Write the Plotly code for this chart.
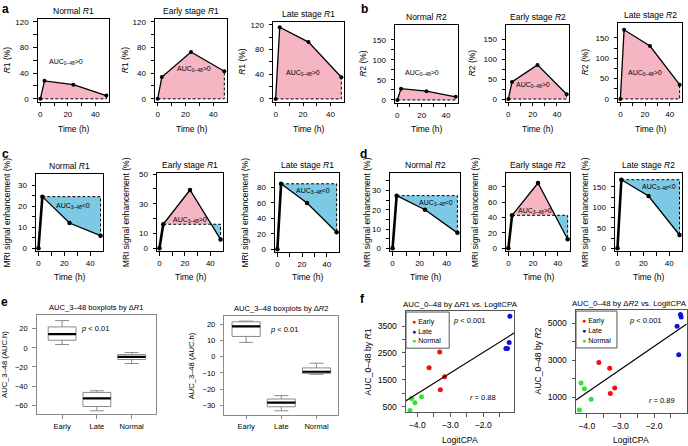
import numpy as np
import plotly.graph_objects as go

W, H = 688, 446
FONT = "Liberation Sans, Arial, Helvetica, sans-serif"

# ---------------- data ----------------
time_h = [0, 3, 24, 48]

# panel a: relaxation-rate change dR1 (%)
r1_normal = [0, 28, 22, 5]
r1_early = [0, 34, 73, 43]
r1_late = [0, 116, 92, 35]
# panel b: dR2 (%)
r2_normal = [0, 28, 22, 8]
r2_early = [0, 43, 86, 12]
r2_late = [0, 170, 130, 35]

# panel c / d: MRI signal enhancement (%)
mri_r1_normal = [0, 24.5, 12, 6]
mri_r1_early = [0, 16.2, 39.3, 6]
mri_r1_late = [0, 84.8, 60, 22]
mri_r2_normal = [0, 27.3, 20, 8]
mri_r2_early = [0, 43, 85, 11.7]
mri_r2_late = [0, 167.5, 127.6, 32.5]

# panel e: boxplot statistics of AUC_3-48
box_groups = ["Early", "Late", "Normal"]
e1_lower = [3.5, -66, -16.4]
e1_q1 = [8, -61.5, -12.2]
e1_median = [14.5, -53, -9.4]
e1_q3 = [22, -46.7, -7]
e1_upper = [28.6, -45, -4.9]
e2_lower = [8.9, -33.5, -10.9]
e2_q1 = [12.6, -31, -10.3]
e2_median = [18.9, -28.4, -9.3]
e2_q3 = [21.7, -26.2, -6.9]
e2_upper = [22.1, -24.1, -4]

# panel f: AUC_0-48 vs LogitCPA
logit_early = [-3.64, -3.32, -3.17, -3.30]
logit_late = [-1.316, -1.267, -1.216, -1.195]
logit_normal = [-4.22, -4.17, -4.07, -3.87]
auc_r1_early = [1953, 2537, 1610, 1133]
auc_r1_late = [2669, 2669, 2890, 3868]
auc_r1_normal = [357, 806, 650, 867]
auc_r2_early = [2875, 2571, 1500, 1196]
auc_r2_late = [4839, 3304, 5482, 5339]
auc_r2_normal = [304, 1768, 1464, 893]

# ---------------- styles ----------------
PINK = "#f6b5c2"
BLUE = "#7cc9e6"
BOX_W = 0.8

fig = go.Figure()
layout = {}
annotations = []
shapes = []


def sfx(i):
    return "" if i == 1 else str(i)


def xd(x0, x1):
    return [x0 / W, x1 / W]


def yd(y0, y1):
    return [1 - y1 / H, 1 - y0 / H]


def add_axes(i, box, xr, yr, xt, xtt, yt, ytt, frame="black", fs=8):
    s = sfx(i)
    common = dict(showline=True, mirror=True, linecolor=frame, linewidth=1,
                  ticks="outside", ticklen=3.5, tickwidth=1, tickcolor=frame,
                  showgrid=False, zeroline=False,
                  tickfont=dict(size=fs, family=FONT, color="black"))
    layout["xaxis" + s] = dict(domain=xd(box[0], box[1]), range=xr, anchor="y" + s,
                               tickmode="array", tickvals=xt, ticktext=xtt,
                               ticklabelstandoff=1, **common)
    layout["yaxis" + s] = dict(domain=yd(box[2], box[3]), range=yr, anchor="x" + s,
                               tickmode="array", tickvals=yt, ticktext=ytt,
                               ticklabelstandoff=3, **common)


def axref(i):
    s = sfx(i)
    return dict(xaxis="x" + s, yaxis="y" + s, showlegend=False, hoverinfo="skip")


def ann(**kw):
    kw.setdefault("xanchor", "center")
    kw.setdefault("yanchor", "middle")
    kw.setdefault("showarrow", False)
    annotations.append(kw)


def title(i, text, fs=8.5):
    s = sfx(i)
    ann(xref=f"x{s} domain", yref=f"y{s} domain", x=0.5, y=1, yanchor="bottom", yshift=1,
        text=text, font=dict(size=fs, family=FONT, color="black"))


def ylabel(i, xpx, text, fs=8.5):
    s = sfx(i)
    ann(xref="paper", yref=f"y{s} domain", x=xpx / W, y=0.5, textangle=-90,
        text=text, font=dict(size=fs, family=FONT, color="black"))


def xlabel(i, ypx, text, fs=8.5):
    s = sfx(i)
    ann(xref=f"x{s} domain", yref="paper", x=0.5, y=1 - ypx / H,
        text=text, font=dict(size=fs, family=FONT, color="black"))


def label_in(i, x, y, text, fs=7):
    s = sfx(i)
    ann(xref=f"x{s}", yref=f"y{s}", x=x, y=y, text=text,
        font=dict(size=fs, family=FONT, color="black"))


def regions(t, y, base):
    pts = [(t[0], y[0])]
    for k in range(len(t) - 1):
        d0, d1 = y[k] - base, y[k + 1] - base
        if d0 * d1 < 0:
            tc = t[k] + (t[k + 1] - t[k]) * d0 / (d0 - d1)
            pts.append((tc, base))
        pts.append((t[k + 1], y[k + 1]))
    runs, cur = [], [pts[0]]
    for p in pts[1:]:
        cur.append(p)
        if p[1] == base and len(cur) > 2:
            runs.append(cur)
            cur = [p]
    if len(cur) > 1:
        runs.append(cur)
    out = []
    for r in runs:
        xs = [p[0] for p in r]
        ys = [p[1] for p in r]
        if ys[-1] != base:
            xs.append(xs[-1]); ys.append(base)
        if ys[0] != base:
            xs.append(xs[0]); ys.append(base)
        dev = max(ys, key=lambda v: abs(v - base)) - base
        out.append((dev > 0, xs, ys))
    return out


def time_panel(i, y, mode):
    ax = axref(i)
    if mode == "auc0":
        t, yy, base = time_h, y, 0
        dash_x = [time_h[0], time_h[-1], time_h[-1]]
        dash_y = [0, 0, y[-1]]
    else:
        t, yy, base = time_h[1:], y[1:], y[1]
        dash_x = [time_h[1], time_h[-1], time_h[-1]]
        dash_y = [y[1], y[1], y[-1]]
    for pos, xs, ys in regions(t, yy, base):
        fig.add_trace(go.Scatter(x=xs, y=ys, mode="lines", fill="toself",
                                 fillcolor=PINK if pos else BLUE,
                                 line=dict(width=0), **ax))
    fig.add_trace(go.Scatter(x=dash_x, y=dash_y, mode="lines",
                             line=dict(color="black", width=1, dash="3px,2px"), **ax))
    if mode == "auc0":
        fig.add_trace(go.Scatter(x=time_h, y=y, mode="lines+markers",
                                 line=dict(color="black", width=1.3),
                                 marker=dict(size=4, color="black"), **ax))
    else:
        fig.add_trace(go.Scatter(x=time_h[:2], y=y[:2], mode="lines",
                                 line=dict(color="black", width=2.6), **ax))
        fig.add_trace(go.Scatter(x=time_h[1:], y=y[1:], mode="lines",
                                 line=dict(color="black", width=1.3), **ax))
        fig.add_trace(go.Scatter(x=time_h, y=y, mode="markers",
                                 marker=dict(size=4.5, color="black"), **ax))


XR = [-1.92, 49.92]
XT = [0, 10, 20, 30, 40]
XTT = ["0", "", "20", "", "40"]


def ticks(vals, labeled):
    return vals, [str(v) if v in labeled else "" for v in vals]


# ---------------- rows a / b ----------------
row1 = [
    (1, (37.7, 109, 16, 100), [-4.8, 124.8], ticks(list(range(0, 121, 20)), [0, 40, 80, 120]),
     r1_normal, "Normal <i>R</i>1", 7, "<i>R</i>1 (%)", (19, 57)),
    (2, (155, 227, 16, 100), [-4.8, 124.8], ticks(list(range(0, 121, 20)), [0, 40, 80, 120]),
     r1_early, "Early stage <i>R</i>1", 125, "<i>R</i>1 (%)", (26, 46)),
    (3, (273, 344, 19, 100), [-4.8, 124.8], ticks(list(range(0, 121, 20)), [0, 40, 80, 120]),
     r1_late, "Late stage <i>R</i>1", 242, "<i>R</i>1 (%)", (20, 42)),
    (4, (395, 458, 22, 101), [-7.2, 187.2], ticks(list(range(0, 151, 25)), [0, 50, 100, 150]),
     r2_normal, "Normal <i>R</i>2", 363, "<i>R</i>2 (%)", (20.5, 68)),
    (5, (506, 569, 22, 100), [-7.2, 187.2], ticks(list(range(0, 151, 25)), [0, 50, 100, 150]),
     r2_early, "Early stage <i>R</i>2", 472, "<i>R</i>2 (%)", (20, 35)),
    (6, (618, 682, 20, 100), [-7.2, 187.2], ticks(list(range(0, 151, 25)), [0, 50, 100, 150]),
     r2_late, "Late stage <i>R</i>2", 585, "<i>R</i>2 (%)", (20, 64)),
]
for i, box, yr, (yt, ytt), data, ttl, ylx, ylt, lab in row1:
    add_axes(i, box, XR, yr, XT, XTT, yt, ytt)
    time_panel(i, data, "auc0")
    title(i, ttl)
    ylabel(i, ylx, ylt)
    xlabel(i, 127, "Time (h)")
    label_in(i, lab[0], lab[1], "AUC<sub>0–48</sub>&gt;0")

# ---------------- rows c / d ----------------
row2 = [
    (7, (36, 103, 173, 251), [-1.35, 35.2], ticks(list(range(0, 31, 5)), [0, 10, 20, 30]),
     mri_r1_normal, "Normal <i>R</i>1", 7, (26.4, 20.3), "AUC<sub>3–48</sub>&lt;0"),
    (8, (157, 223, 172, 251), [-1.95, 50.7], ticks(list(range(0, 51, 10)), [0, 10, 30, 50]),
     mri_r1_early, "Early stage <i>R</i>1", 126, (24, 19.3), "AUC<sub>3–48</sub>&gt;0"),
    (9, (275, 339, 172, 252), [-3.8, 98.7], ticks(list(range(0, 81, 20)), [0, 20, 40, 60, 80]),
     mri_r1_late, "Late stage <i>R</i>1", 245, (28.8, 75), "AUC<sub>3–48</sub>&lt;0"),
    (10, (390, 460, 172, 251), [-1.5, 39], ticks(list(range(0, 36, 5)), [0, 10, 20, 30]),
     mri_r2_normal, "Normal <i>R</i>2", 367, (32, 23.7), "AUC<sub>3–48</sub>&lt;0"),
    (11, (506, 570, 172, 251), [-3.77, 98], ticks(list(range(0, 81, 20)), [0, 20, 40, 60, 80]),
     mri_r2_early, "Early stage <i>R</i>2", 475, (21.5, 49), "AUC<sub>3–48</sub>&gt;0"),
    (12, (615, 682, 172, 251), [-7.07, 183.7], ticks(list(range(0, 151, 25)), [0, 50, 100, 150]),
     mri_r2_late, "Late stage <i>R</i>2", 585, (32.4, 149), "AUC<sub>3–48</sub>&lt;0"),
]
for i, box, yr, (yt, ytt), data, ttl, ylx, lab, labt in row2:
    add_axes(i, box, XR, yr, XT, XTT, yt, ytt)
    time_panel(i, data, "auc3")
    title(i, ttl)
    ylabel(i, ylx, "MRI signal enhancement (%)")
    xlabel(i, 277, "Time (h)")
    label_in(i, lab[0], lab[1], labt)

# ---------------- row e : boxplots ----------------
GREY = "#8a8a8a"
epanels = [
    (13, (36.7, 156, 316, 416), [-0.73, 2.7], [-69.7, 34], list(range(-60, 21, 20)),
     (e1_lower, e1_q1, e1_median, e1_q3, e1_upper), "AUC_3–48 boxplots by Δ<i>R</i>1", 5,
     (0.95, 20)),
    (14, (224.3, 338.3, 317, 416.5), [-0.62, 2.62], [-36, 25], list(range(-30, 21, 10)),
     (e2_lower, e2_q1, e2_median, e2_q3, e2_upper), "AUC_3–48 boxplots by Δ<i>R</i>2", 191.7,
     (1.08, 16.8)),
]
for i, box, xr, yr, yt, (lo, q1, med, q3, up), ttl, ylx, ptxt in epanels:
    add_axes(i, box, xr, yr, [0, 1, 2], box_groups, yt,
             [str(v).replace("-", "−") for v in yt], frame=GREY, fs=7.5)
    fig.add_trace(go.Box(x=[0, 1, 2], q1=q1, median=med, q3=q3, lowerfence=lo,
                         upperfence=up, width=BOX_W, whiskerwidth=0.5, fillcolor="white",
                         line=dict(color=GREY, width=1), boxpoints=False, **axref(i)))
    mx, my = [], []
    for k, m in enumerate(med):
        mx += [k - BOX_W / 2, k + BOX_W / 2, None]
        my += [m, m, None]
    fig.add_trace(go.Scatter(x=mx, y=my, mode="lines", line=dict(color="black", width=2.2),
                             **axref(i)))
    title(i, ttl, fs=7.6)
    ylabel(i, ylx, "AUC_3–48 (AUC.h)", fs=7.6)
    label_in(i, ptxt[0], ptxt[1], "<i>p</i> &lt; 0.01", fs=7.5)

# ---------------- row f : scatter ----------------
groups = [("Early", "#ee1111", logit_early), ("Late", "#1111dd", logit_late),
          ("Normal", "#33e033", logit_normal)]
fpanels = [
    (15, (406, 514, 311, 414), [-4.34, -1.07], [290, 4077],
     ticks(list(range(500, 3501, 500)), [500, 1500, 2500, 3500]),
     [auc_r1_early, auc_r1_late, auc_r1_normal], "AUC_0–48 by Δ<i>R</i>1 vs. LogitCPA",
     368, "AUC_0–48 by <i>R</i>1", "0.88", (0.587, 0.904), (0.709, 0.15), 0.40, 0),
    (16, (576, 686.7, 310, 415), [-4.32, -1.03], [127, 5750],
     ticks(list(range(1000, 5001, 1000)), [1000, 3000, 5000]),
     [auc_r2_early, auc_r2_late, auc_r2_normal], "AUC_0–48 by Δ<i>R</i>2 vs. LogitCPA",
     538, "AUC_0–48 by <i>R</i>2", "0.89", (0.632, 0.898), (0.774, 0.127), 0.37, -2),
]
FX = [-4.0, -3.5, -3.0, -2.5, -2.0, -1.5]
FXT = ["−4.0", "", "−3.0", "", "−2.0", ""]
for i, box, xr, yr, (yt, ytt), ys, ttl, ylx, ylt, rr, ppos, rpos, legw, tshift in fpanels:
    s = sfx(i)
    add_axes(i, box, xr, yr, FX, FXT, yt, ytt, frame="#555555", fs=8.6)
    allx, ally = [], []
    for (name, col, gx), gy in zip(groups, ys):
        fig.add_trace(go.Scatter(x=gx, y=gy, mode="markers",
                                 marker=dict(size=5, color=col), **axref(i)))
        allx += gx
        ally += gy
    slope, icpt = np.polyfit(allx, ally, 1)
    fx = np.array(xr)
    fig.add_trace(go.Scatter(x=fx, y=slope * fx + icpt, mode="lines",
                             line=dict(color="black", width=1.2), **axref(i)))
    ann(xref=f"x{s} domain", yref=f"y{s} domain", x=0.5, y=1, yanchor="bottom", yshift=0,
        xshift=tshift, text=ttl, font=dict(size=7.9, family=FONT, color="black"))
    ylabel(i, ylx, ylt, fs=8.6)
    xlabel(i, 441.5, "LogitCPA", fs=8.6)
    ann(xref=f"x{s} domain", yref=f"y{s} domain", x=ppos[0], y=ppos[1],
        text="<i>p</i> &lt; 0.001", font=dict(size=7.5, family=FONT, color="black"))
    ann(xref=f"x{s} domain", yref=f"y{s} domain", x=rpos[0], y=rpos[1],
        text=f"<i>r</i> = {rr}", font=dict(size=7.5, family=FONT, color="black"))
    shapes.append(dict(type="rect", xref=f"x{s} domain", yref=f"y{s} domain",
                       x0=0, x1=legw, y0=0.63, y1=0.985,
                       line=dict(color="#555555", width=1), fillcolor="rgba(0,0,0,0)"))
    for k, (name, col, _) in enumerate(groups):
        ann(xref=f"x{s} domain", yref=f"y{s} domain", x=0.04, y=0.885 - k * 0.09,
            xanchor="left", text=f"<span style='color:{col}'>●</span> {name}",
            font=dict(size=7, family=FONT, color="black"))

# ---------------- panel letters ----------------
for letter, xp, yp in [("a", 5, 6), ("b", 364, 6), ("c", 5, 153), ("d", 363, 153),
                       ("e", 4, 302), ("f", 362, 299)]:
    ann(xref="paper", yref="paper", x=xp / W, y=1 - yp / H, text=f"<b>{letter}</b>",
        font=dict(size=12, family=FONT, color="black"))

fig.update_layout(width=W, height=H, margin=dict(l=0, r=0, t=0, b=0), autosize=False,
                  plot_bgcolor="white", paper_bgcolor="white", showlegend=False,
                  font=dict(family=FONT, color="black"),
                  annotations=annotations, shapes=shapes, **layout)
fig.write_html("out.html", config={"displayModeBar": False},
               post_script="document.body.style.margin='0px';")
